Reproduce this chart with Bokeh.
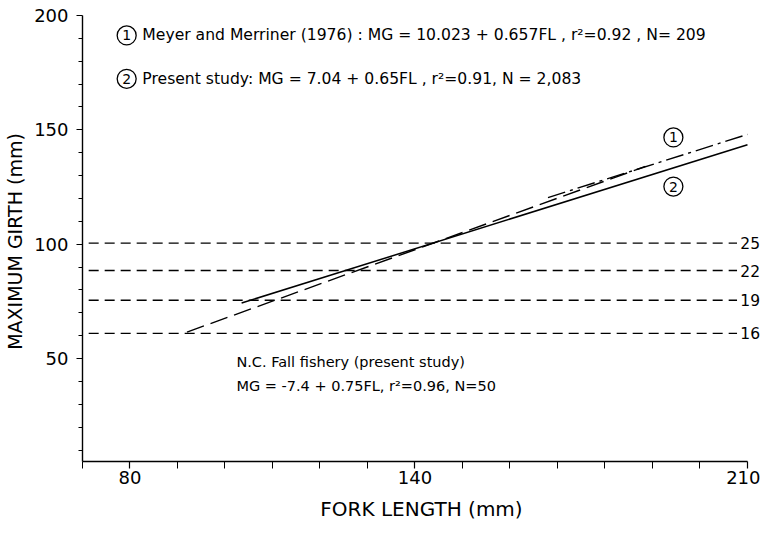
from bokeh.plotting import figure
from bokeh.models import Range1d, FixedTicker, Label, ColumnDataSource
from bokeh.core.properties import value
from bokeh.embed import file_html
from bokeh.resources import INLINE

FONT = "DejaVu Sans"

# ---- data ----
fl_major_ticks = [80, 140, 210]
fl_minor_ticks = [70, 90, 100, 110, 120, 130, 150, 160, 170, 180, 190, 200]
mg_major_ticks = [50, 100, 150, 200]
mg_minor_ticks = [10, 20, 30, 40, 60, 70, 80, 90, 110, 120, 130, 140, 160, 170, 180, 190]

mesh_labels = ["25", "22", "19", "16"]
mesh_girth = [100.5, 88.5, 75.5, 61.0]

meyer_fl = [168.0, 210.0]
meyer_mg = [120.4, 148.0]
present_fl = [103.5, 210.0]
present_mg = [74.3, 143.5]
nc_fl = [92.0, 188.5]
nc_mg = [61.6, 134.0]

eq_meyer = "Meyer and Merriner (1976) : MG = 10.023 + 0.657FL , r\u00b2=0.92 , N= 209"
eq_present = "Present study:  MG = 7.04 + 0.65FL ,  r\u00b2=0.91,  N = 2,083"
nc_title = "N.C. Fall fishery (present study)"
nc_eq = "MG = -7.4 + 0.75FL,  r\u00b2=0.96,  N=50"

p = figure(width=760, height=525, output_backend="svg", toolbar_location=None,
           x_range=Range1d(70, 212.74), y_range=Range1d(5, 200),
           min_border_left=82, min_border_right=0, min_border_top=15, min_border_bottom=64)
p.outline_line_color = None
p.grid.visible = False
p.background_fill_color = "white"
p.border_fill_color = "white"

# axes
xa = p.xaxis[0]
xa.ticker = FixedTicker(ticks=fl_major_ticks, minor_ticks=fl_minor_ticks)
xa.bounds = (70, 210)
xa.axis_label = "FORK LENGTH (mm)"
ya = p.yaxis[0]
ya.ticker = FixedTicker(ticks=mg_major_ticks, minor_ticks=mg_minor_ticks)
ya.axis_label = "MAXIMUM  GIRTH (mm)"
for ax in (xa, ya):
    ax.axis_line_color = "black"
    ax.axis_line_width = 1.4
    ax.major_tick_line_color = "black"
    ax.minor_tick_line_color = "black"
    ax.major_tick_line_width = 1.2
    ax.minor_tick_line_width = 1.0
    ax.major_tick_in = 0
    ax.minor_tick_in = 0
    ax.major_label_text_font = FONT
    ax.major_label_text_font_size = "18px"
    ax.major_label_text_color = "black"
    ax.axis_label_text_font = FONT
    ax.axis_label_text_font_style = "normal"
    ax.axis_label_text_color = "black"
xa.axis_label_text_font_size = "20px"
ya.axis_label_text_font_size = "19px"
xa.major_tick_out = 7
xa.minor_tick_out = 7
xa.major_label_standoff = 2
xa.axis_label_standoff = 10
ya.major_tick_out = 6
ya.minor_tick_out = 4
ya.major_label_standoff = 8
ya.axis_label_standoff = 5

# horizontal mesh-size lines
n = len(mesh_girth)
p.segment(x0=[71.3] * n, x1=[207.8] * n, y0=mesh_girth, y1=mesh_girth,
          line_color="black", line_width=1.3, line_dash="10 6")
p.text(x=[208.5] * n, y=mesh_girth, text=mesh_labels, text_font=value(FONT),
       text_font_size="15.5px", text_baseline="middle", text_align="left", text_color="black")

# regression lines
p.line(meyer_fl, meyer_mg, line_color="black", line_width=1.4, line_dash="18 5 3 5")
p.line(present_fl, present_mg, line_color="black", line_width=1.5)
p.line(nc_fl, nc_mg, line_color="black", line_width=1.4, line_dash="18 7")

# circled numbers
circ_src = ColumnDataSource(dict(x=[79.3, 79.3, 194.4, 194.4], y=[191.3, 172.3, 146.7, 125.2],
                                 t=["1", "2", "1", "2"]))
p.scatter("x", "y", source=circ_src, marker="circle", size=19, fill_color=None,
          line_color="black", line_width=1.3)
p.text("x", "y", text="t", source=circ_src, text_font=value(FONT), text_font_size="14px",
       text_align="center", text_baseline="middle", text_color="black")

for txt, x, y, fs in [(eq_meyer, 82.6, 191.3, "15.6px"), (eq_present, 82.6, 172.3, "15.6px"),
                      (nc_title, 102.4, 48.3, "14.5px"), (nc_eq, 102.4, 38.2, "14.5px")]:
    p.add_layout(Label(x=x, y=y, text=txt, text_font=FONT, text_font_size=fs,
                       text_baseline="middle", text_align="left", text_color="black"))

open("out.html", "w").write(file_html(p, INLINE))
